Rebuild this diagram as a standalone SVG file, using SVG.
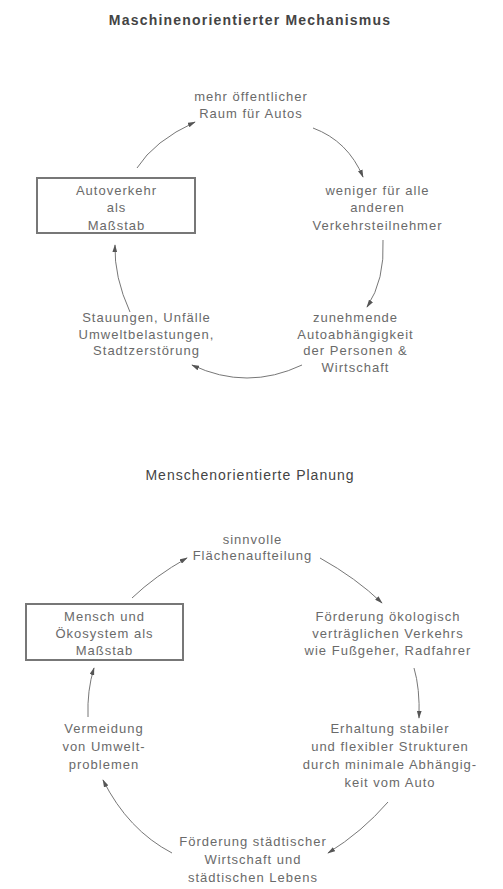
<svg xmlns="http://www.w3.org/2000/svg" width="503" height="889" viewBox="0 0 503 889">
<style>
.t{font-family:"Liberation Sans",Arial,sans-serif;font-size:13px;fill:#6a6a6a;text-anchor:middle;letter-spacing:1px}
.h1{font-family:"Liberation Sans",Arial,sans-serif;font-size:14px;font-weight:bold;fill:#444;text-anchor:middle;letter-spacing:1.2px}
.h2{font-family:"Liberation Sans",Arial,sans-serif;font-size:14px;fill:#444;text-anchor:middle;letter-spacing:1px}
.box{fill:#fff;stroke:#777;stroke-width:2}
.c{fill:none;stroke:#777;stroke-width:1;marker-end:url(#ah)}
</style>
<defs>
<marker id="ah" viewBox="0 0 10 6" refX="9" refY="3" markerWidth="8" markerHeight="5" markerUnits="userSpaceOnUse" orient="auto">
<path d="M0,0 L10,3 L0,6 z" fill="#555"/>
</marker>
</defs>
<rect width="503" height="889" fill="#fff"/>
<text class="h1" x="250" y="24.5">Maschinenorientierter Mechanismus</text>
<text class="h2" x="250" y="479.5">Menschenorientierte Planung</text>

<g id="connectors">
<path class="c" d="M137,168 Q154,141 195,122"/>
<path class="c" d="M313,128 Q348,141 363,177"/>
<path class="c" d="M383,240 Q385,280 367,307"/>
<path class="c" d="M302,365 Q247,391 192,365"/>
<path class="c" d="M130,312 Q114,277 115,245"/>

<path class="c" d="M132,598 Q155,576 187,558"/>
<path class="c" d="M320,558 Q356,578 382,603"/>
<path class="c" d="M414,668 Q420,688 419,718"/>
<path class="c" d="M388,802 Q362,832 328,853"/>
<path class="c" d="M172,853 Q128,830 103,780"/>
<path class="c" d="M88,717 Q87,690 94,668"/>
</g>

<g id="n1">
<text class="t" x="251" y="100.5">mehr öffentlicher</text>
<text class="t" x="251" y="117.5">Raum für Autos</text>
</g>
<g id="n2">
<rect class="box" x="37" y="178" width="158" height="55"/>
<text class="t" x="116.5" y="194.5">Autoverkehr</text>
<text class="t" x="116.5" y="212">als</text>
<text class="t" x="116.5" y="229.5">Maßstab</text>
</g>
<g id="n3">
<text class="t" x="377.5" y="194.5">weniger für alle</text>
<text class="t" x="377.5" y="212">anderen</text>
<text class="t" x="377.5" y="229.5">Verkehrsteilnehmer</text>
</g>
<g id="n4">
<text class="t" x="355.5" y="321.5">zunehmende</text>
<text class="t" x="355.5" y="338.5">Autoabhängigkeit</text>
<text class="t" x="355.5" y="355">der Personen &amp;</text>
<text class="t" x="355.5" y="371.5">Wirtschaft</text>
</g>
<g id="n5">
<text class="t" x="146.5" y="321.5">Stauungen, Unfälle</text>
<text class="t" x="146.5" y="338.5">Umweltbelastungen,</text>
<text class="t" x="146.5" y="354.5">Stadtzerstörung</text>
</g>

<g id="m1">
<text class="t" x="252.5" y="543.5">sinnvolle</text>
<text class="t" x="252.5" y="560">Flächenaufteilung</text>
</g>
<g id="m2">
<rect class="box" x="26" y="604" width="157" height="56"/>
<text class="t" x="104.5" y="621">Mensch und</text>
<text class="t" x="104.5" y="638">Ökosystem als</text>
<text class="t" x="104.5" y="654.5">Maßstab</text>
</g>
<g id="m3">
<text class="t" x="388" y="621">Förderung ökologisch</text>
<text class="t" x="388" y="638">verträglichen Verkehrs</text>
<text class="t" x="388" y="654.5">wie Fußgeher, Radfahrer</text>
</g>
<g id="m4">
<text class="t" x="390" y="732.5">Erhaltung stabiler</text>
<text class="t" x="390" y="750.5">und flexibler Strukturen</text>
<text class="t" x="390" y="768.5">durch minimale Abhängig-</text>
<text class="t" x="390" y="786.5">keit vom Auto</text>
</g>
<g id="m5">
<text class="t" x="253" y="846">Förderung städtischer</text>
<text class="t" x="253" y="864">Wirtschaft und</text>
<text class="t" x="253" y="881.5">städtischen Lebens</text>
</g>
<g id="m6">
<text class="t" x="104" y="732.5">Vermeidung</text>
<text class="t" x="104" y="750.5">von Umwelt-</text>
<text class="t" x="104" y="768.5">problemen</text>
</g>
</svg>
